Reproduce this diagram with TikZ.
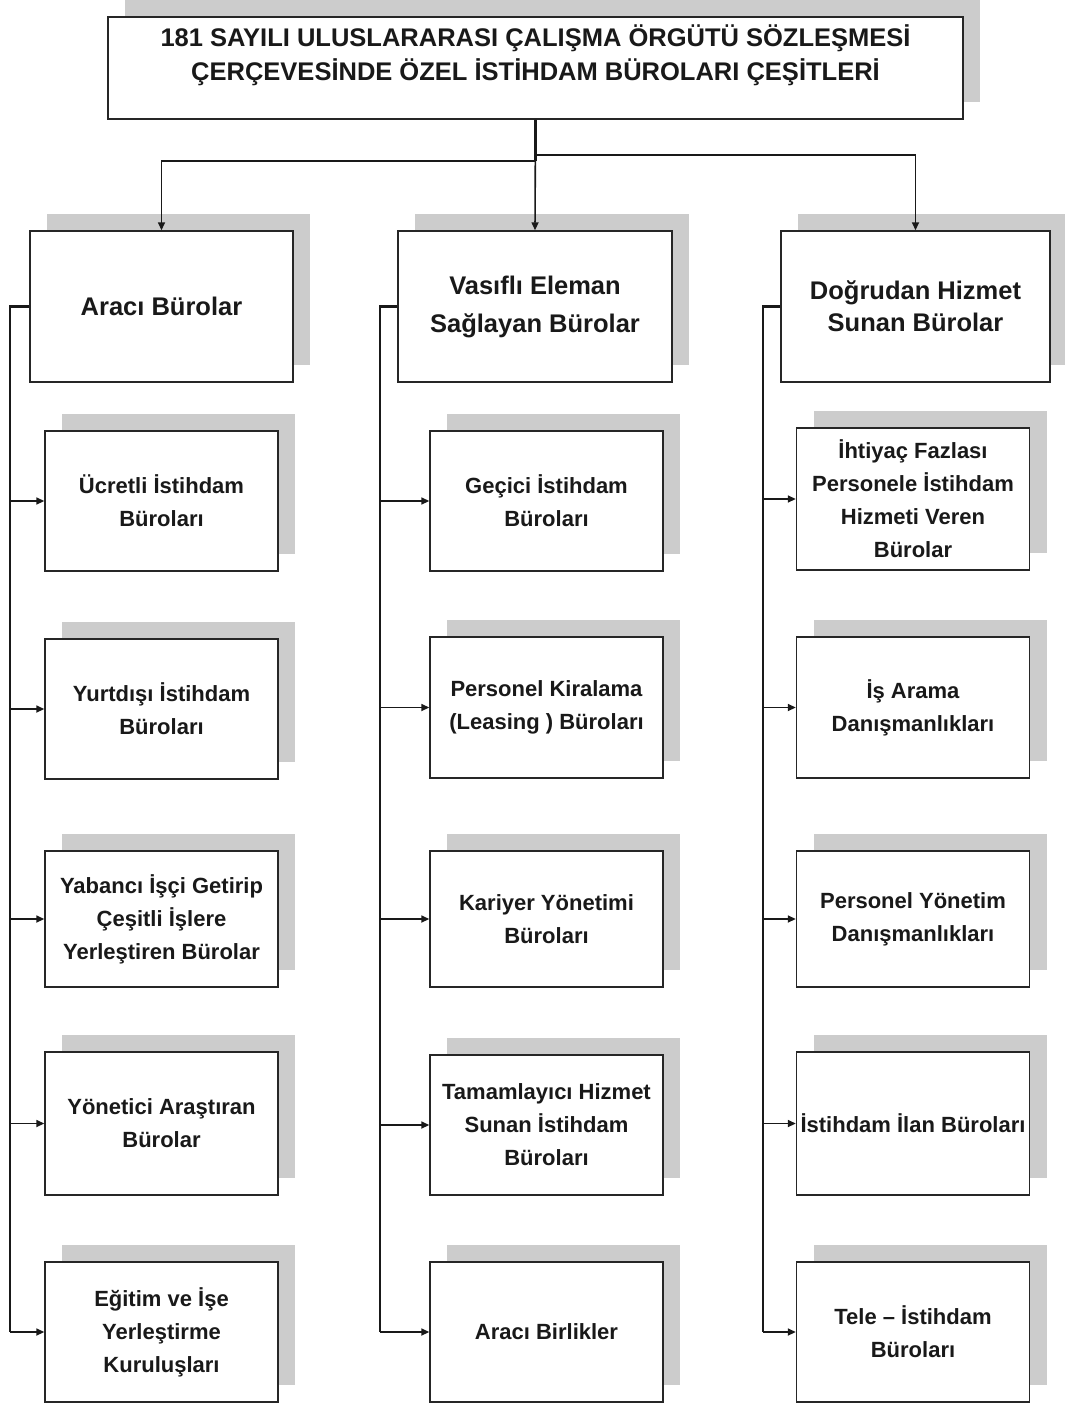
\documentclass[tikz,border=0pt]{standalone}
\usepackage{fontspec}
\setmainfont{Liberation Sans}
\usetikzlibrary{arrows.meta,shadows,calc}
\definecolor{golge}{HTML}{CCCCCC}
\tikzset{
	kutu/.style={draw=black!85, line width=1.4pt, fill=white, align=center, inner sep=1pt,
		drop shadow={shadow xshift=17pt, shadow yshift=17pt, fill=golge, opacity=1}},
	baslik/.style={kutu, minimum width=855, minimum height=102},
	baslikyazi/.style={align=center, font=\fontsize{25.5}{34}\selectfont\bfseries, text=black!90},
	ana/.style={kutu, minimum height=151, font=\fontsize{25.5}{38}\selectfont\bfseries, text=black!90},
	alt/.style={kutu, minimum width=233, minimum height=140, font=\fontsize{22}{33}\selectfont\bfseries, text=black!90},
	ok/.style={line width=1.6pt, draw=black!90, -{Triangle[length=8pt,width=7pt]}},
	omurga/.style={line width=2.2pt, draw=black!90},
}

\begin{document}
\begin{tikzpicture}[x=1pt,y=-1pt]
		%%%%% START %%%%%
		\useasboundingbox (0,0) rectangle (1065,1405);
		
		% top box
		\node[baslik] (title) at (535.5,68) {};
		\node[baslikyazi] (titletext) at (535.5,55) {181 SAYILI ULUSLARARASI ÇALIŞMA ÖRGÜTÜ SÖZLEŞMESİ\\ÇERÇEVESİNDE ÖZEL İSTİHDAM BÜROLARI ÇEŞİTLERİ};
		
		% second row
		\node[ana, minimum width=263] (araci) at (161.5,306.5) {Aracı Bürolar};
		\node[ana, minimum width=274] (vasifli) at (535,306.5) {Vasıflı Eleman\\Sağlayan Bürolar};
		\node[ana, minimum width=269, font=\fontsize{25.5}{32}\selectfont\bfseries] (dogrudan) at (915.5,306.5) {Doğrudan Hizmet\\Sunan Bürolar};
		
		\coordinate (hl) at ($(title.south)+(0,41)$);
		\coordinate (hr) at ($(title.south)+(0,35)$);
		\draw[omurga] (title.south) -- (hl);
		\draw[ok] (hl) -| (araci.north);
		\draw[ok] (hr) -| (dogrudan.north);
		\draw[ok] (title.south) -- (vasifli.north);
		
		% first column
		\node[alt] (a1) at (161.5,501) {Ücretli İstihdam\\Büroları};
		\node[alt] (a2) at (161.5,709) {Yurtdışı İstihdam\\Büroları};
		\node[alt, minimum height=136] (a3) at (161.5,919) {Yabancı İşçi Getirip\\Çeşitli İşlere\\Yerleştiren Bürolar};
		\node[alt, minimum height=143] (a4) at (161.5,1123.5) {Yönetici Araştıran\\Bürolar};
		\node[alt] (a5) at (161.5,1332) {Eğitim ve İşe\\Yerleştirme\\Kuruluşları};
		
		% second column
		\node[alt] (b1) at (546.5,501) {Geçici İstihdam\\Büroları};
		\node[alt, minimum height=141] (b2) at (546.5,707.5) {Personel Kiralama\\(Leasing ) Büroları};
		\node[alt, minimum height=136] (b3) at (546.5,919) {Kariyer Yönetimi\\Büroları};
		\node[alt] (b4) at (546.5,1125) {Tamamlayıcı Hizmet\\Sunan İstihdam\\Büroları};
		\node[alt] (b5) at (546.5,1332) {Aracı Birlikler};
		
		% third column
		\node[alt, minimum height=142] (c1) at (913,499) {İhtiyaç Fazlası\\Personele İstihdam\\Hizmeti Veren\\Bürolar};
		\node[alt, minimum height=141] (c2) at (913,707.5) {İş Arama\\Danışmanlıkları};
		\node[alt, minimum height=136] (c3) at (913,919) {Personel Yönetim\\Danışmanlıkları};
		\node[alt, minimum height=143] (c4) at (913,1123.5) {İstihdam İlan Büroları};
		\node[alt] (c5) at (913,1332) {Tele – İstihdam\\Büroları};
		
		% spines
		\coordinate (s1) at (10,0);
		\coordinate (s2) at (380,0);
		\coordinate (s3) at (763,0);
		
		\draw[omurga] (araci.west) -- (araci.west -| s1) -- (s1 |- a5.west);
		\draw[omurga] (vasifli.west) -- (vasifli.west -| s2) -- (s2 |- b5.west);
		\draw[omurga] (dogrudan.west) -- (dogrudan.west -| s3) -- (s3 |- c5.west);
		
		\draw[ok] (s1 |- a1.west) -- (a1.west);
		\draw[ok] (s1 |- a2.west) -- (a2.west);
		\draw[ok] (s1 |- a3.west) -- (a3.west);
		\draw[ok] (s1 |- a4.west) -- (a4.west);
		\draw[ok] (s1 |- a5.west) -- (a5.west);
		
		\draw[ok] (s2 |- b1.west) -- (b1.west);
		\draw[ok] (s2 |- b2.west) -- (b2.west);
		\draw[ok] (s2 |- b3.west) -- (b3.west);
		\draw[ok] (s2 |- b4.west) -- (b4.west);
		\draw[ok] (s2 |- b5.west) -- (b5.west);
		
		\draw[ok] (s3 |- c1.west) -- (c1.west);
		\draw[ok] (s3 |- c2.west) -- (c2.west);
		\draw[ok] (s3 |- c3.west) -- (c3.west);
		\draw[ok] (s3 |- c4.west) -- (c4.west);
		\draw[ok] (s3 |- c5.west) -- (c5.west);
		
		%%%%% END %%%%%
\end{tikzpicture}
\end{document}
